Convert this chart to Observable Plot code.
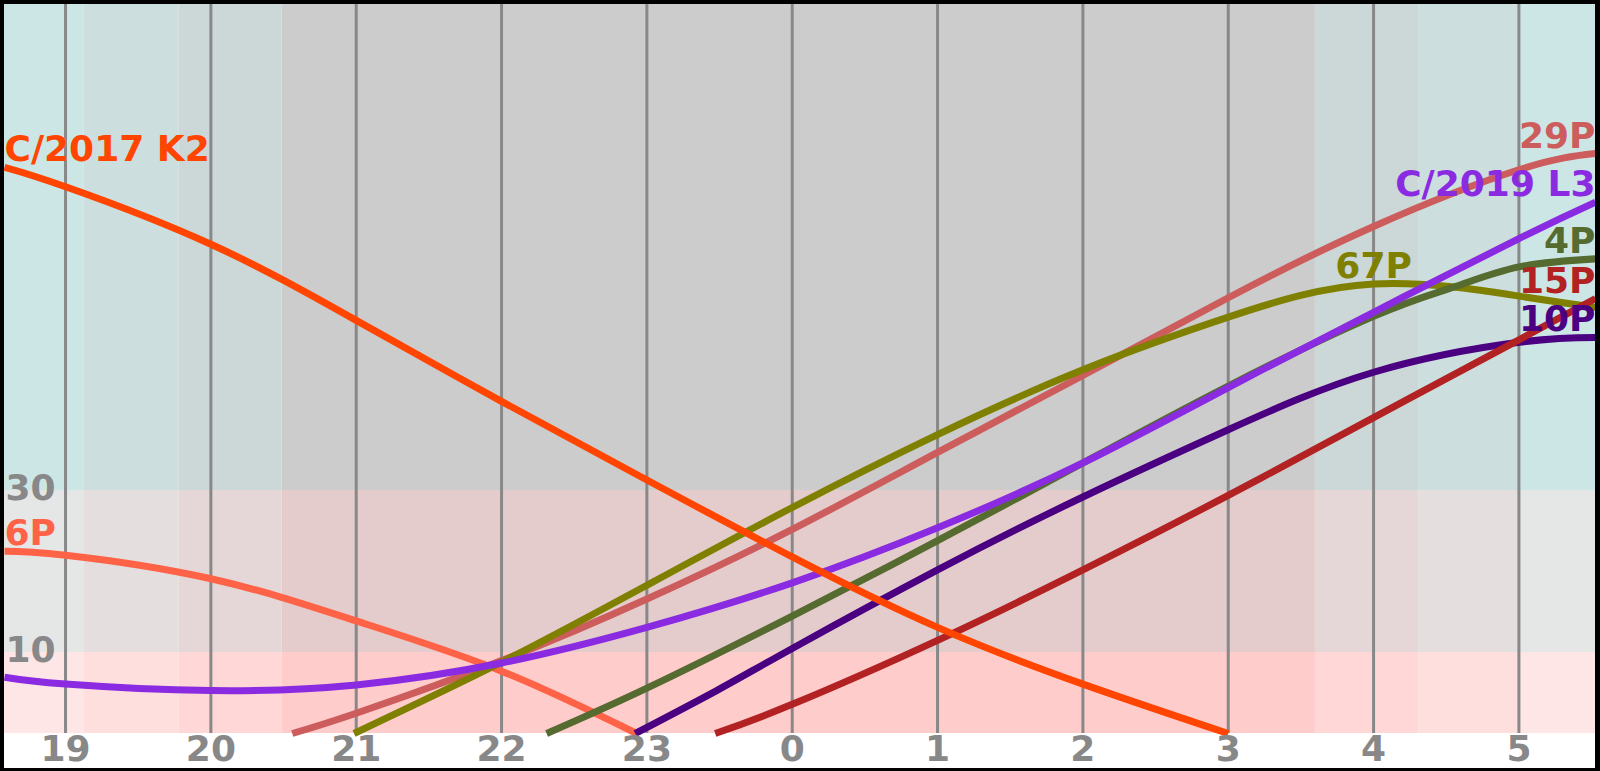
<!DOCTYPE html>
<html>
<head>
<meta charset="utf-8">
<script src="https://cdn.jsdelivr.net/npm/d3@7"></script>
<script src="https://cdn.jsdelivr.net/npm/@observablehq/plot@0.6"></script>
<style>
html, body { margin: 0; padding: 0; background: #fff; }
#frame {
  box-sizing: border-box; width: 1600px; height: 771px;
  border-style: solid; border-color: #000; border-width: 4px 5px 3px 4px;
  overflow: hidden; background: #fff;
}
#frame svg { display: block; }
</style>
</head>
<body>
<div id="frame"></div>
<script>
// ---------- data ----------
// hours: 18.58 .. 29.53  (values above 24 are after midnight)
const xDomain = [18.58, 29.527];
const tickHours = [19, 20, 21, 22, 23, 24, 25, 26, 27, 28, 29];
const tickLabels = ["19", "20", "21", "22", "23", "0", "1", "2", "3", "4", "5"];
const altTicks = [10, 30];
const altBands = [0, 10, 30, 90];
// twilight boundaries (sunset ... sunrise)
const twilightBounds = [18.58, 19.126, 19.78, 20.49, 27.60, 28.31, 29.005, 29.527];
const twilightLevel = [0, 1, 2, 3, 2, 1, 0];

const k2Hour = [18.58, 19, 20, 21, 22, 23, 24, 25, 26, 27];
const k2Alt  = [69.9, 67.5, 60.4, 51.0, 41.0, 31.3, 21.8, 13.1, 6.1, 0];

const p6Hour = [18.58, 19, 20, 21, 22, 22.93];
const p6Alt  = [22.5, 22.0, 19.1, 13.9, 7.7, 0];

const l3Hour = [18.58, 19, 20, 21, 22, 23, 24, 25, 26, 27, 28, 29, 29.527];
const l3Alt  = [6.95, 6.1, 5.3, 6.0, 8.7, 13.1, 18.6, 25.4, 33.4, 42.7, 52.0, 61.1, 65.6];

const p29Hour = [20.56, 21, 22, 23, 24, 25, 26, 27, 28, 29, 29.527];
const p29Alt  = [0, 2.5, 9.0, 16.6, 25.2, 34.7, 44.2, 53.8, 62.6, 69.6, 71.6];

const p67Hour = [20.985, 22, 23, 24, 25, 26, 27, 28, 29, 29.527];
const p67Alt  = [0, 8.8, 18.3, 27.9, 36.9, 44.9, 51.4, 55.5, 54.0, 52.6];

const p4Hour = [22.31, 23, 24, 25, 26, 27, 28, 28.55, 29, 29.527];
const p4Alt  = [0, 5.6, 14.5, 23.8, 33.4, 42.9, 51.5, 55.1, 57.6, 58.6];

const p10Hour = [22.92, 23.48, 24, 25, 26, 27, 28, 29, 29.527];
const p10Alt  = [0, 5.3, 10.5, 20.2, 29.2, 37.5, 44.6, 48.3, 48.9];

const p15Hour = [23.47, 24, 25, 26, 27, 28, 29, 29.527];
const p15Alt  = [0, 3.6, 11.5, 20.2, 29.4, 39.0, 48.6, 53.7];

// drawing order
const cometNames = ["6P", "29P", "67P", "4P", "10P", "15P", "C/2019 L3", "C/2017 K2"];
const cometHours = [p6Hour, p29Hour, p67Hour, p4Hour, p10Hour, p15Hour, l3Hour, k2Hour];
const cometAlts  = [p6Alt, p29Alt, p67Alt, p4Alt, p10Alt, p15Alt, l3Alt, k2Alt];

// ---------- styles ----------
const cometColors = ["#ff6347", "#cd5c5c", "#808000", "#556b2f", "#4b0082", "#b22222", "#8a2be2", "#ff4500"];
const levelRGB = [[204, 230, 230], [204, 222, 222], [204, 215, 215], [204, 204, 204]];
const gridColor = "#888888";
const fontSize = 36;

// ---------- build ----------
const cells = [];
for (let i = 0; i < twilightLevel.length; i++) {
  const [r, g, b] = levelRGB[twilightLevel[i]];
  for (let j = 0; j < altBands.length - 1; j++) {
    let rr = r;
    if (j === 0) rr = 255;
    else if (j === 1) rr = Math.min(255, r + 25);
    cells.push({
      x1: twilightBounds[i], x2: twilightBounds[i + 1],
      y1: altBands[j], y2: altBands[j + 1],
      fill: `rgb(${rr},${g},${b})`
    });
  }
}

const lineMarks = [];
const labelMarks = [];
cometNames.forEach((name, k) => {
  const rows = cometHours[k].map((h, i) => ({hour: h, alt: cometAlts[k][i]}));
  lineMarks.push(Plot.line(rows, {
    x: "hour", y: "alt", stroke: cometColors[k], strokeWidth: 7,
    curve: "natural", strokeLinecap: "butt", strokeLinejoin: "round"
  }));
  const iMax = d3.maxIndex(rows, d => d.alt);
  const anchor = iMax === 0 ? "start" : iMax === rows.length - 1 ? "end" : "middle";
  labelMarks.push(Plot.text([{...rows[iMax], name}], {
    x: "hour", y: "alt", text: "name", fill: cometColors[k],
    textAnchor: anchor, lineAnchor: "bottom", dy: -6,
    fontSize, fontWeight: "bold"
  }));
});

const chart = Plot.plot({
  width: 1591,
  height: 764,
  marginLeft: 0,
  marginRight: 0,
  marginTop: 0,
  marginBottom: 35,
  style: {fontFamily: "'DejaVu Sans', sans-serif", fontWeight: "bold", background: "#fff"},
  x: {domain: xDomain, axis: null},
  y: {domain: [0, 90], axis: null},
  color: {type: "identity"},
  marks: [
    Plot.rect(cells, {x1: "x1", x2: "x2", y1: "y1", y2: "y2", fill: "fill"}),
    Plot.ruleX(tickHours, {x: d => d, stroke: gridColor, strokeWidth: 3}),
    ...lineMarks,
    ...labelMarks,
    Plot.text(tickHours, {
      x: d => d, frameAnchor: "bottom", text: (d, i) => tickLabels[i],
      lineAnchor: "top", dy: 2, fill: gridColor, fontSize, fontWeight: "bold"
    }),
    Plot.text(altTicks, {
      y: d => d, frameAnchor: "left", text: d => String(d),
      textAnchor: "start", lineAnchor: "middle", dx: 1, dy: -2,
      fill: gridColor, fontSize, fontWeight: "bold"
    })
  ]
});
document.getElementById("frame").appendChild(chart);
</script>
</body>
</html>
